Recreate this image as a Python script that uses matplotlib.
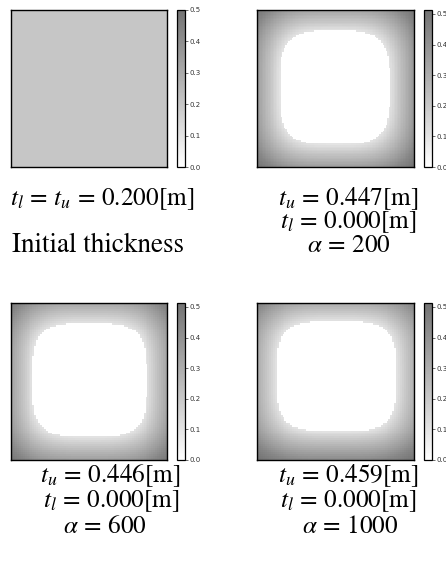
import numpy as np
import matplotlib
matplotlib.use("Agg")
import matplotlib.pyplot as plt
from matplotlib.colors import LinearSegmentedColormap

plt.rcParams['mathtext.fontset'] = 'stix'
plt.rcParams['font.family'] = ['STIXGeneral', 'DejaVu Serif']

# ---------------- data ----------------
initial_thickness = 0.200
t_u_values = [0.447, 0.446, 0.459]
t_l_values = [0.000, 0.000, 0.000]
alpha_values = [200, 600, 1000]

# white (zero-thickness) region bounds: left, right, top, bottom (axes fraction, y from top)
white_bounds_a200 = [0.145, 0.847, 0.132, 0.855]
white_bounds_a600 = [0.139, 0.870, 0.127, 0.854]
white_bounds_a1000 = [0.123, 0.890, 0.113, 0.816]

# thickness profile outside the white region (r = normalised distance, t = thickness [m])
profile_r = [1.00, 1.15, 1.30, 1.42, 1.55, 1.72, 2.00]
profile_t_a200 = [0.10, 0.20, 0.29, 0.36, 0.44, 0.513, 0.513]
profile_t_a600 = [0.10, 0.20, 0.29, 0.36, 0.44, 0.513, 0.513]
profile_t_a1000 = [0.10, 0.20, 0.29, 0.36, 0.44, 0.513, 0.513]

cbar_ticks = [0.0, 0.1, 0.2, 0.3, 0.4, 0.5]
cbar_max_initial = 0.5
cbar_max_opt = 0.513
# -------------------------------------------------------------

W, H = 446, 582
fig = plt.figure(figsize=(W / 100, H / 100), dpi=100)


def fax(x0, y0, x1, y1):
    return fig.add_axes([x0 / W, 1 - y1 / H, (x1 - x0) / W, (y1 - y0) / H])


def make_field(bounds, prof_t, n, p=3.6):
    l, r, t, b = bounds
    c = (np.arange(n) + 0.5) / n
    X, Y = np.meshgrid(c, c)
    cx, cy = (l + r) / 2, (t + b) / 2
    ax_, ay_ = (r - l) / 2, (b - t) / 2
    R = (np.abs((X - cx) / ax_) ** p + np.abs((Y - cy) / ay_) ** p) ** (1 / p)
    F = np.interp(R, profile_r, prof_t)
    F[R < 1] = 0.0
    return F


CMAP = LinearSegmentedColormap.from_list('g', [(1, 1, 1), (0.45, 0.45, 0.45)])


def panel(field, vmax, axbox, cbbox):
    ax = fax(*axbox)
    im = ax.imshow(field, cmap=CMAP, vmin=0, vmax=vmax,
                   interpolation='nearest', extent=[0, 1, 1, 0], aspect='auto')
    ax.set_xticks([])
    ax.set_yticks([])
    for s in ax.spines.values():
        s.set_linewidth(1.0)
    cax = fax(*cbbox)
    cb = fig.colorbar(im, cax=cax, ticks=cbar_ticks)
    cb.ax.tick_params(labelsize=5, length=2, width=0.5, pad=1, colors='#333333')
    cb.ax.set_yticklabels([f"{v:.1f}" for v in cbar_ticks], family='DejaVu Sans')
    cb.outline.set_linewidth(0.9)
    return ax


init_field = np.full((10, 10), initial_thickness)
panel(init_field, cbar_max_initial, (11, 10, 167, 167), (177, 10, 185, 167))
panel(make_field(white_bounds_a200, profile_t_a200, 100), cbar_max_opt,
      (257, 10, 414, 167), (424, 10, 432, 167))
panel(make_field(white_bounds_a600, profile_t_a600, 80), cbar_max_opt,
      (11, 303, 167, 460), (177, 303, 185, 460))
panel(make_field(white_bounds_a1000, profile_t_a1000, 80), cbar_max_opt,
      (257, 303, 414, 460), (424, 303, 432, 460))

fs = 18.2
EQ = r'\,=\,'


def txt(x, y, s, size=fs):
    fig.text(x / W, 1 - y / H, s, ha='center', va='baseline', fontsize=size)


txt(102.5, 205, (r'$t_l' + EQ + 't_u' + EQ + r'%.3f[\mathrm{m}]$') % initial_thickness)
txt(97.5, 252, 'Initial thickness', size=19.5)

txt(348.5, 205, (r'$t_u' + EQ + r'%.3f[\mathrm{m}]$') % t_u_values[0])
txt(348.5, 228.5, (r'$t_l' + EQ + r'%.3f[\mathrm{m}]$') % t_l_values[0])
txt(348.5, 252, (r'$\alpha' + EQ + r'%d$') % alpha_values[0])

txt(110, 482, (r'$t_u' + EQ + r'%.3f[\mathrm{m}]$') % t_u_values[1])
txt(111, 507.5, (r'$t_l' + EQ + r'%.3f[\mathrm{m}]$') % t_l_values[1])
txt(105, 533, (r'$\alpha' + EQ + r'%d$') % alpha_values[1])

txt(348.5, 482, (r'$t_u' + EQ + r'%.3f[\mathrm{m}]$') % t_u_values[2])
txt(348.5, 507.5, (r'$t_l' + EQ + r'%.3f[\mathrm{m}]$') % t_l_values[2])
txt(350, 533, (r'$\alpha' + EQ + r'%d$') % alpha_values[2])

fig.savefig('out.png', dpi=100)
